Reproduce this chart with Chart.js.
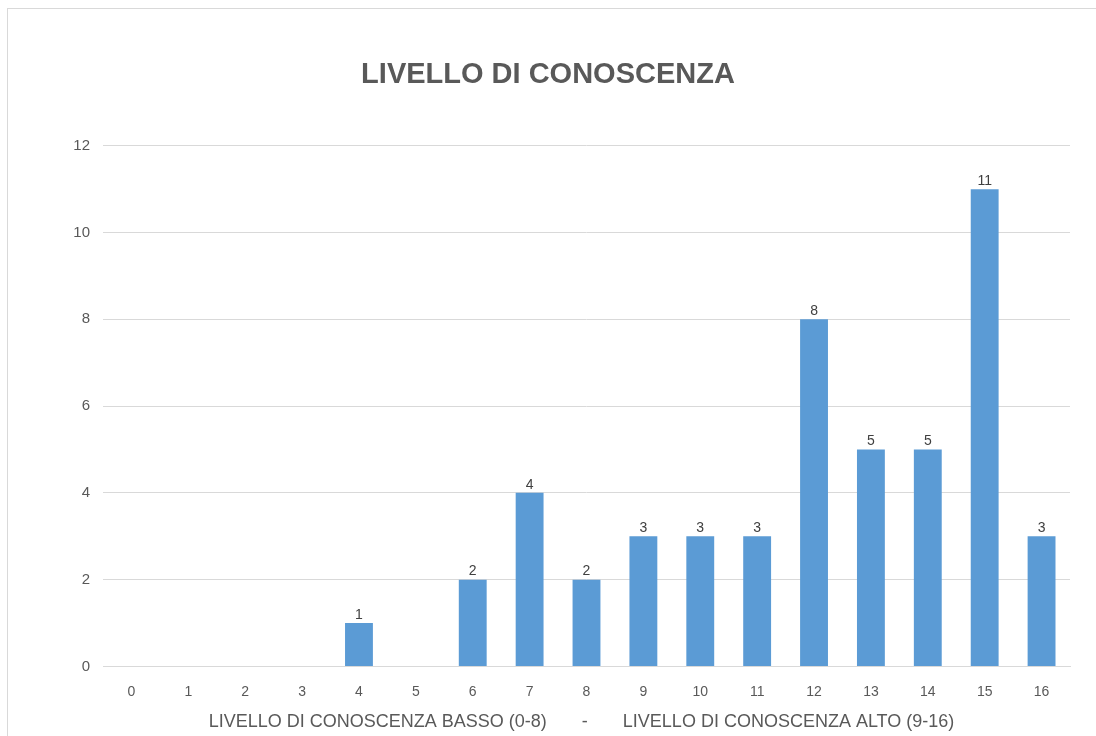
<!DOCTYPE html>
<html>
<head>
<meta charset="utf-8">
<script src="https://cdn.jsdelivr.net/npm/chart.js@4"></script>
<style>
  html, body { margin: 0; padding: 0; background: #fff; }
  #wrap { position: relative; width: 1096px; height: 736px; overflow: hidden; }
  #frame { position: absolute; left: 7px; top: 8px; width: 1100px; height: 740px; border: 1px solid #d9d9d9; box-sizing: border-box; }
  canvas { position: absolute; left: 0; top: 0; }
</style>
</head>
<body>
<div id="wrap">
  <div id="frame"></div>
  <canvas id="chart" width="1096" height="736"></canvas>
</div>
<script>
// punteggi 0..16 e numero di persone per punteggio
const categories = ['0', '1', '2', '3', '4', '5', '6', '7', '8', '9', '10', '11', '12', '13', '14', '15', '16'];
const counts = [0, 0, 0, 0, 1, 0, 2, 4, 2, 3, 3, 3, 8, 5, 5, 11, 3];
const yTicks = [0, 2, 4, 6, 8, 10, 12];

const FONT = "'Liberation Sans', 'DejaVu Sans', sans-serif";
const GRAY = '#595959';

// etichette sopra le barre (valori diversi da zero)
const barLabels = {
    id: 'barLabels',
    afterDatasetsDraw(chart) {
        const ctx = chart.ctx;
        const meta = chart.getDatasetMeta(0);
        ctx.save();
        ctx.font = '14px ' + FONT;
        ctx.fillStyle = '#404040';
        ctx.textAlign = 'center';
        ctx.textBaseline = 'bottom';
        meta.data.forEach((bar, i) => {
            if (!counts[i]) return;
            ctx.fillText(String(counts[i]), bar.x, bar.y - 1);
        });
        ctx.restore();
    }
};

new Chart(document.getElementById('chart'), {
    type: 'bar',
    data: {
        labels: categories,
        datasets: [{
            data: counts,
            backgroundColor: '#5b9bd5',
            borderWidth: 0,
            barPercentage: 1,
            categoryPercentage: 0.49
        }]
    },
    options: {
        responsive: false,
        animation: false,
        devicePixelRatio: 1,
        layout: { padding: { left: 0, right: 0, top: 0, bottom: 0 } },
        plugins: {
            legend: { display: false },
            tooltip: { enabled: false },
            title: {
                display: true,
                text: 'LIVELLO DI CONOSCENZA',
                color: GRAY,
                font: { family: FONT, size: 29, weight: 'bold' },
                padding: { top: 58, bottom: 53 }
            }
        },
        scales: {
            x: {
                grid: { display: false, drawTicks: false },
                border: { display: true, color: '#d9d9d9', width: 1 },
                ticks: { color: GRAY, font: { family: FONT, size: 14 }, padding: 17.6, maxRotation: 0 },
                title: {
                    display: true,
                    text: 'LIVELLO DI CONOSCENZA BASSO (0-8)       -       LIVELLO DI CONOSCENZA ALTO (9-16)  ',
                    color: GRAY,
                    font: { family: FONT, size: 18 },
                    padding: { top: -7, bottom: 3 }
                }
            },
            y: {
                min: 0,
                max: 12,
                afterBuildTicks: (scale) => { scale.ticks = yTicks.map(v => ({ value: v })); },
                afterFit: (scale) => { scale.width = 103; },
                grid: { color: '#d9d9d9', drawTicks: false },
                border: { display: false },
                ticks: { color: GRAY, font: { family: FONT, size: 15 }, padding: 13 }
            },
            // margine destro vuoto, cosi' il titolo resta centrato sulla tela
            yRight: {
                position: 'right',
                afterFit: (scale) => { scale.width = 26; },
                grid: { display: false, drawTicks: false },
                border: { display: false },
                ticks: { display: false }
            }
        }
    },
    plugins: [barLabels]
});
</script>
</body>
</html>
